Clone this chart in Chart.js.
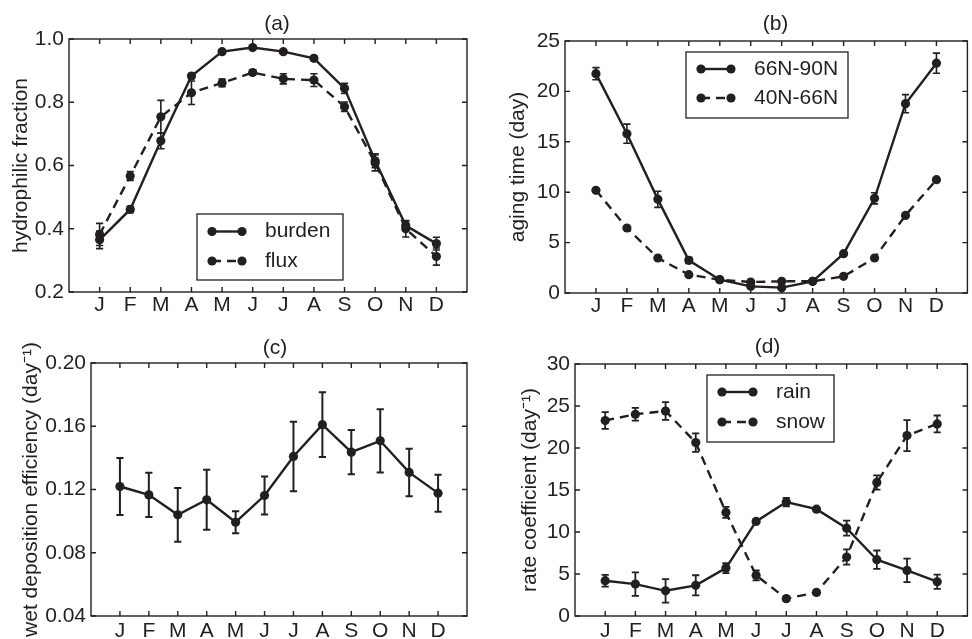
<!DOCTYPE html>
<html>
<head>
<meta charset="utf-8">
<script src="https://cdn.jsdelivr.net/npm/chart.js@4"></script>
<style>
html,body{margin:0;padding:0;background:#fff;}
body{width:972px;height:639px;position:relative;overflow:hidden;}
.panel{position:absolute;}
</style>
</head>
<body>
<div class="panel" style="left:0;top:0;width:486px;height:320px"><canvas id="ca"></canvas></div>
<div class="panel" style="left:486px;top:0;width:486px;height:320px"><canvas id="cb"></canvas></div>
<div class="panel" style="left:0;top:320px;width:486px;height:319px"><canvas id="cc"></canvas></div>
<div class="panel" style="left:486px;top:320px;width:486px;height:319px"><canvas id="cd"></canvas></div>
<script>
// ---- data ----
const months = ['J','F','M','A','M','J','J','A','S','O','N','D'];

const burden    = [0.365, 0.461, 0.678, 0.883, 0.960, 0.973, 0.960, 0.939, 0.844, 0.615, 0.410, 0.353];
const burdenErr = [0.028, 0.010, 0.025, 0.008, 0.005, 0.005, 0.005, 0.007, 0.016, 0.022, 0.015, 0.020];
const flux      = [0.382, 0.567, 0.754, 0.830, 0.861, 0.894, 0.874, 0.870, 0.786, 0.608, 0.400, 0.312];
const fluxErr   = [0.035, 0.014, 0.052, 0.037, 0.012, 0.008, 0.016, 0.020, 0.015, 0.025, 0.026, 0.027];
const ticksA    = [0.2, 0.4, 0.6, 0.8, 1.0];

const aging66    = [21.76, 15.8, 9.29, 3.24, 1.32, 0.66, 0.53, 1.16, 3.9, 9.39, 18.78, 22.8];
const aging66Err = [0.6, 0.95, 0.8, 0.3, 0.15, 0.15, 0.15, 0.15, 0.2, 0.55, 0.9, 1.0];
const aging40    = [10.19, 6.45, 3.47, 1.82, 1.32, 1.09, 1.16, 1.16, 1.65, 3.47, 7.7, 11.24];
const ticksB     = [0, 5, 10, 15, 20, 25];

const wetDep    = [0.1219, 0.1166, 0.1040, 0.1135, 0.0993, 0.1162, 0.1409, 0.1610, 0.1436, 0.1508, 0.1308, 0.1177];
const wetDepErr = [0.018, 0.014, 0.017, 0.019, 0.007, 0.012, 0.022, 0.0205, 0.014, 0.020, 0.015, 0.0117];
const ticksC    = [0.04, 0.08, 0.12, 0.16, 0.20];

const rain    = [4.2, 3.8, 3.0, 3.65, 5.7, 11.26, 13.56, 12.72, 10.46, 6.7, 5.43, 4.08];
const rainErr = [0.7, 1.4, 1.4, 1.2, 0.6, 0.2, 0.5, 0.2, 0.9, 1.1, 1.4, 0.85];
const snow    = [23.27, 24.02, 24.4, 20.65, 12.33, 4.84, 2.06, 2.81, 7.02, 15.9, 21.48, 22.87];
const snowErr = [1.0, 0.75, 1.05, 1.1, 0.65, 0.6, 0.3, 0.3, 0.9, 0.85, 1.85, 1.0];
const ticksD  = [0, 5, 10, 15, 20, 25, 30];

// ---- style ----
const INK = '#231f20';
const FAMILY = '"Liberation Sans", Arial, Helvetica, sans-serif';
Chart.defaults.font.family = FAMILY;
Chart.defaults.color = INK;

function series(label, values, errs, dashed) {
  return {
    label,
    data: values.map((v, i) => ({x: i, y: v})),
    errors: errs,
    borderColor: INK,
    backgroundColor: INK,
    pointBackgroundColor: INK,
    pointBorderColor: INK,
    pointBorderWidth: 0,
    pointRadius: 4.6,
    borderWidth: 2.4,
    borderDash: dashed ? [9, 6] : [],
    tension: 0
  };
}

// error bars drawn through the chart's scales
const errorBars = {
  id: 'errorBars',
  afterDatasetsDraw(chart, args, o) {
    const {ctx, scales: {x, y}} = chart;
    chart.data.datasets.forEach(ds => {
      if (!ds.errors) return;
      ctx.save();
      ctx.strokeStyle = INK;
      ctx.lineWidth = (o && o.width) || 1.6;
      ctx.setLineDash([]);
      const cw = 3.6;
      ds.data.forEach((pt, j) => {
        const e = ds.errors[j];
        if (!e) return;
        const px = x.getPixelForValue(pt.x);
        const y1 = y.getPixelForValue(pt.y + e);
        const y2 = y.getPixelForValue(pt.y - e);
        ctx.beginPath();
        ctx.moveTo(px, y1); ctx.lineTo(px, y2);
        ctx.moveTo(px - cw, y1); ctx.lineTo(px + cw, y1);
        ctx.moveTo(px - cw, y2); ctx.lineTo(px + cw, y2);
        ctx.stroke();
      });
      ctx.restore();
    });
  }
};

// box frame with inward ticks on all sides
const frame = {
  id: 'frame',
  afterDatasetsDraw(chart) {
    const {ctx, chartArea: a, scales: {x, y}} = chart;
    ctx.save();
    ctx.strokeStyle = INK;
    ctx.lineWidth = 1.4;
    ctx.setLineDash([]);
    ctx.strokeRect(a.left, a.top, a.right - a.left, a.bottom - a.top);
    const L = 5;
    ctx.beginPath();
    x.ticks.forEach(t => {
      const px = x.getPixelForValue(t.value);
      ctx.moveTo(px, a.bottom); ctx.lineTo(px, a.bottom - L);
      ctx.moveTo(px, a.top); ctx.lineTo(px, a.top + L);
    });
    y.ticks.forEach(t => {
      const py = y.getPixelForValue(t.value);
      ctx.moveTo(a.left, py); ctx.lineTo(a.left + L, py);
      ctx.moveTo(a.right, py); ctx.lineTo(a.right - L, py);
    });
    ctx.stroke();
    ctx.restore();
  }
};

const panelTitle = {
  id: 'panelTitle',
  afterDraw(chart, args, o) {
    if (!o || !o.text) return;
    const ctx = chart.ctx;
    ctx.save();
    ctx.fillStyle = INK;
    ctx.font = '21px ' + FAMILY;
    ctx.textAlign = 'center';
    ctx.textBaseline = 'middle';
    ctx.fillText(o.text, o.x, o.y);
    ctx.restore();
  }
};

const boxLegend = {
  id: 'boxLegend',
  afterDraw(chart, args, o) {
    if (!o || !o.box) return;
    const ctx = chart.ctx;
    const [bx, by, bw, bh] = o.box;
    ctx.save();
    ctx.fillStyle = '#fff';
    ctx.fillRect(bx, by, bw, bh);
    ctx.strokeStyle = INK;
    ctx.lineWidth = 1.3;
    ctx.setLineDash([]);
    ctx.strokeRect(bx, by, bw, bh);
    chart.data.datasets.forEach((ds, i) => {
      const yy = o.rows[i];
      ctx.strokeStyle = ds.borderColor;
      ctx.lineWidth = ds.borderWidth;
      ctx.setLineDash(ds.borderDash || []);
      ctx.beginPath();
      ctx.moveTo(o.s1, yy); ctx.lineTo(o.s2, yy);
      ctx.stroke();
      ctx.setLineDash([]);
      ctx.fillStyle = ds.pointBackgroundColor;
      [o.s1, o.s2].forEach(px => {
        ctx.beginPath();
        ctx.arc(px, yy, ds.pointRadius, 0, Math.PI * 2);
        ctx.fill();
      });
      ctx.fillStyle = INK;
      ctx.font = '21px ' + FAMILY;
      ctx.textAlign = 'left';
      ctx.textBaseline = 'middle';
      ctx.fillText(ds.label, o.tx, yy);
    });
    ctx.restore();
  }
};

function makeChart(id, datasets, cfg) {
  return new Chart(document.getElementById(id), {
    type: 'line',
    data: {datasets},
    options: {
      responsive: true,
      maintainAspectRatio: false,
      animation: false,
      devicePixelRatio: 1,
      events: [],
      layout: {padding: {top: cfg.ca.top, right: cfg.w - cfg.ca.right, left: 0, bottom: 0}},
      scales: {
        x: {
          type: 'linear', min: -1, max: 12,
          grid: {display: false, drawTicks: false},
          border: {display: false},
          afterBuildTicks: s => { s.ticks = months.map((m, i) => ({value: i})); },
          afterFit: s => { s.height = cfg.h - cfg.ca.bottom; },
          ticks: {
            autoSkip: false, maxRotation: 0, padding: cfg.xpad, color: INK,
            font: {size: 21},
            callback: v => months[v]
          }
        },
        y: {
          type: 'linear', min: cfg.yTicks[0], max: cfg.yTicks[cfg.yTicks.length - 1],
          grid: {display: false, drawTicks: false},
          border: {display: false},
          afterBuildTicks: s => { s.ticks = cfg.yTicks.map(v => ({value: v})); },
          afterFit: s => { s.width = cfg.ca.left; },
          ticks: {
            padding: 5, color: INK, font: {size: 21},
            callback: v => v.toFixed(cfg.dec)
          },
          title: {
            display: true, text: cfg.ylabel, color: INK,
            font: {size: 21},
            padding: {top: cfg.ytitleX - 12.6, bottom: 0}
          }
        }
      },
      plugins: {
        legend: {display: false},
        tooltip: {enabled: false},
        errorBars: {width: cfg.errW},
        panelTitle: cfg.title,
        boxLegend: cfg.legend || {}
      }
    },
    plugins: [errorBars, frame, panelTitle, boxLegend]
  });
}

makeChart('ca', [
  series('burden', burden, burdenErr, false),
  series('flux', flux, fluxErr, true)
], {
  w: 486, h: 320, ca: {left: 69, top: 39, right: 467, bottom: 292},
  yTicks: ticksA, dec: 1, ylabel: 'hydrophilic fraction', ytitleX: 21.5, xpad: 1, errW: 1.6,
  title: {text: '(a)', x: 277, y: 24},
  legend: {box: [197, 214, 146, 66], rows: [231.5, 261], s1: 212, s2: 242, tx: 265}
});

makeChart('cb', [
  series('66N-90N', aging66, aging66Err, false),
  series('40N-66N', aging40, null, true)
], {
  w: 486, h: 320, ca: {left: 79, top: 41, right: 482, bottom: 293},
  yTicks: ticksB, dec: 0, ylabel: 'aging time (day)', ytitleX: 32, xpad: 1, errW: 1.6,
  title: {text: '(b)', x: 289.5, y: 24},
  legend: {box: [200, 52, 162, 66], rows: [69, 98], s1: 215, s2: 245, tx: 268}
});

makeChart('cc', [
  series('wet deposition', wetDep, wetDepErr, false)
], {
  w: 486, h: 319, ca: {left: 91, top: 43, right: 467, bottom: 296},
  yTicks: ticksC, dec: 2, ylabel: 'wet deposition efficiency (day\u207B\u00B9)', ytitleX: 31, xpad: 3, errW: 2,
  title: {text: '(c)', x: 275, y: 28},
});

makeChart('cd', [
  series('rain', rain, rainErr, false),
  series('snow', snow, snowErr, true)
], {
  w: 486, h: 319, ca: {left: 89, top: 44, right: 482, bottom: 296},
  yTicks: ticksD, dec: 0, ylabel: 'rate coefficient (day\u207B\u00B9)', ytitleX: 44, xpad: 3, errW: 1.8,
  title: {text: '(d)', x: 281.5, y: 27},
  legend: {box: [221, 55, 127, 67], rows: [72, 102], s1: 236, s2: 267, tx: 290}
});
</script>
</body>
</html>
